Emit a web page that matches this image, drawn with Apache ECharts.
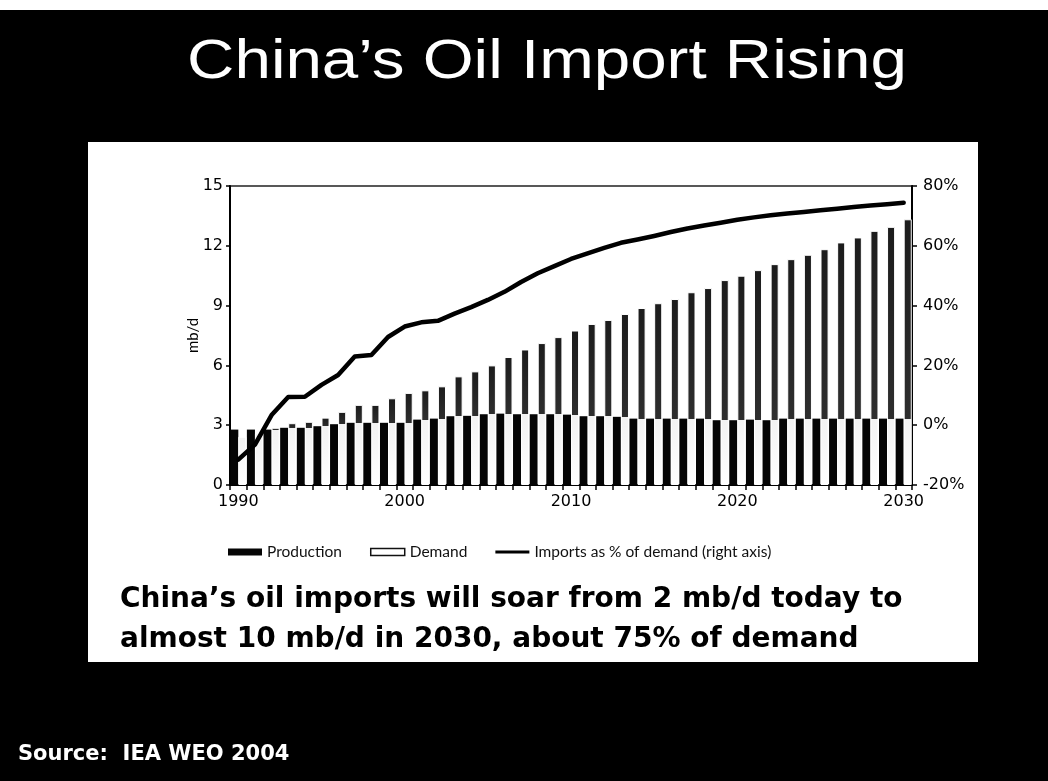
<!DOCTYPE html>
<html>
<head>
<meta charset="utf-8">
<script src="https://cdn.jsdelivr.net/npm/echarts@6/dist/echarts.min.js"></script>
<style>
  html, body { margin: 0; padding: 0; background: #000; }
  #chart { width: 1048px; height: 781px; }
</style>
</head>
<body>
<div id="chart"></div>
<script>
// China oil balance, 1990-2030 (mb/d) and import dependence (% of demand)
const years = ['1990','1991','1992','1993','1994','1995','1996','1997','1998','1999',
               '2000','2001','2002','2003','2004','2005','2006','2007','2008','2009',
               '2010','2011','2012','2013','2014','2015','2016','2017','2018','2019',
               '2020','2021','2022','2023','2024','2025','2026','2027','2028','2029','2030'];

const production = [2.78, 2.78, 2.78, 2.87, 2.87, 2.95, 3.05, 3.12, 3.12, 3.12,
                    3.12, 3.28, 3.33, 3.45, 3.47, 3.55, 3.58, 3.55, 3.55, 3.55,
                    3.53, 3.45, 3.45, 3.42, 3.33, 3.33, 3.33, 3.33, 3.33, 3.25,
                    3.25, 3.28, 3.25, 3.33, 3.33, 3.33, 3.33, 3.33, 3.33, 3.33, 3.33];

const demand = [2.42, 2.60, 2.87, 3.10, 3.17, 3.38, 3.67, 4.02, 4.02, 4.35,
                4.62, 4.75, 4.95, 5.45, 5.70, 6.00, 6.42, 6.80, 7.12, 7.42,
                7.75, 8.08, 8.28, 8.58, 8.88, 9.12, 9.33, 9.67, 9.88, 10.28,
                10.50, 10.78, 11.08, 11.33, 11.55, 11.83, 12.17, 12.42, 12.75, 12.95, 13.33];

const importShare = [-11.5, -6.5, 3.4, 9.4, 9.5, 13.5, 16.8, 23.0, 23.5, 29.5,
                     33.0, 34.4, 34.9, 37.3, 39.5, 41.9, 44.6, 47.9, 50.8, 53.2,
                     55.6, 57.5, 59.3, 61.0, 62.1, 63.3, 64.6, 65.8, 66.8, 67.7,
                     68.7, 69.5, 70.2, 70.8, 71.3, 71.9, 72.4, 73.0, 73.5, 73.9, 74.4];

const leftAxis = { min: 0, max: 15, interval: 3 };
const rightAxis = { min: -20, max: 80, interval: 20 };

const seriesNames = ['Production', 'Demand', 'Imports as % of demand (right axis)'];

// Demand columns: light where covered by domestic output, dark hatch above it
const demandItems = demand.map((d, i) => {
  const f = Math.min(1, production[i] / d);
  return {
    value: d,
    itemStyle: {
      color: new echarts.graphic.LinearGradient(0, 1, 0, 0, [
        { offset: 0, color: '#ffffff' },
        { offset: f, color: '#f2f2f2' },
        { offset: f, color: '#2e2e2e' },
        { offset: 1, color: '#1c1c1c' }
      ])
    }
  };
});

const chart = echarts.init(document.getElementById('chart'), null, { renderer: 'canvas' });

const axisFont = 'DejaVu Sans';

chart.setOption({
  backgroundColor: '#000',
  animation: false,
  graphic: [
    { type: 'rect', z: -100, shape: { x: 0, y: 0, width: 1048, height: 10 }, style: { fill: '#fff' } },
    { type: 'rect', z: -100, shape: { x: 88, y: 142, width: 890, height: 520 }, style: { fill: '#fff' } },
    {
      type: 'text', x: 547, y: 63, scaleX: 1.17, scaleY: 1,
      style: {
        text: 'China’s Oil Import Rising', fill: '#fff',
        font: '56px "Liberation Sans", Arial, sans-serif',
        textAlign: 'center', textVerticalAlign: 'middle'
      }
    },
    {
      type: 'text', x: 120, y: 600,
      style: {
        text: 'China’s oil imports will soar from 2 mb/d today to', fill: '#000',
        font: 'bold 28px "DejaVu Sans", Verdana, sans-serif',
        textAlign: 'left', textVerticalAlign: 'middle'
      }
    },
    {
      type: 'text', x: 120, y: 640,
      style: {
        text: 'almost 10 mb/d in 2030, about 75% of demand', fill: '#000',
        font: 'bold 28px "DejaVu Sans", Verdana, sans-serif',
        textAlign: 'left', textVerticalAlign: 'middle'
      }
    },
    {
      type: 'text', x: 18, y: 755,
      style: {
        text: 'Source:  IEA WEO 2004', fill: '#fff',
        font: 'bold 21px "DejaVu Sans", Verdana, sans-serif',
        textAlign: 'left', textVerticalAlign: 'middle'
      }
    }
  ],
  grid: {
    left: 230, right: 136, top: 186, bottom: 296,
    show: true, borderColor: '#222', borderWidth: 1.5, backgroundColor: 'transparent'
  },
  legend: {
    left: 223, top: 539,
    itemWidth: 34, itemHeight: 7, itemGap: 28,
    symbolKeepAspect: true,
    textStyle: { fontFamily: 'Lato', fontSize: 15.5, color: '#111' },
    data: [
      { name: seriesNames[0], icon: 'rect' },
      { name: seriesNames[1], icon: 'rect', itemStyle: { color: '#fff', borderColor: '#111', borderWidth: 1.5 } },
      { name: seriesNames[2], icon: 'path://M0,0L34,0L34,3L0,3Z', itemStyle: { color: '#000' } }
    ]
  },
  xAxis: [
    {
      type: 'category', data: years, boundaryGap: true,
      axisLine: { lineStyle: { color: '#000', width: 2 } },
      axisTick: { show: true, interval: 0, length: 5, inside: false, lineStyle: { color: '#000', width: 1.5 } },
      axisLabel: {
        interval: 9, margin: 9, color: '#000',
        fontFamily: axisFont, fontSize: 16
      }
    }
  ],
  yAxis: [
    {
      type: 'value', min: leftAxis.min, max: leftAxis.max, interval: leftAxis.interval,
      name: 'mb/d', nameLocation: 'middle', nameGap: 29, nameRotate: 90, nameMoveOverlap: false,
      nameTextStyle: { fontFamily: 'Lato', fontSize: 15, color: '#000' },
      axisLine: { show: true, lineStyle: { color: '#000', width: 2 } },
      axisTick: { show: true, length: 4, lineStyle: { color: '#000', width: 1.5 } },
      axisLabel: { margin: 7, color: '#000', fontFamily: axisFont, fontSize: 16 },
      splitLine: { show: false }
    },
    {
      type: 'value', position: 'right', min: rightAxis.min, max: rightAxis.max, interval: rightAxis.interval,
      axisLine: { show: true, lineStyle: { color: '#000', width: 2 } },
      axisTick: { show: true, length: 5, lineStyle: { color: '#000', width: 1.5 } },
      axisLabel: { margin: 11, color: '#000', fontFamily: axisFont, fontSize: 16, formatter: '{value}%' },
      splitLine: { show: false }
    }
  ],
  series: [
    {
      name: seriesNames[0], type: 'bar', yAxisIndex: 0,
      data: production,
      barGap: '0%', barCategoryGap: '3%',
      itemStyle: { color: '#050505' }
    },
    {
      name: seriesNames[1], type: 'bar', yAxisIndex: 0,
      data: demandItems,
      barGap: '0%', barCategoryGap: '3%',
      itemStyle: { color: '#fff', borderColor: '#fff', borderWidth: 1 }
    },
    {
      name: seriesNames[2], type: 'line', yAxisIndex: 1,
      data: importShare,
      symbol: 'none', smooth: false, z: 5,
      lineStyle: { color: '#000', width: 4.5, cap: 'round', join: 'round' },
      itemStyle: { color: '#000' }
    }
  ]
});
</script>
</body>
</html>
